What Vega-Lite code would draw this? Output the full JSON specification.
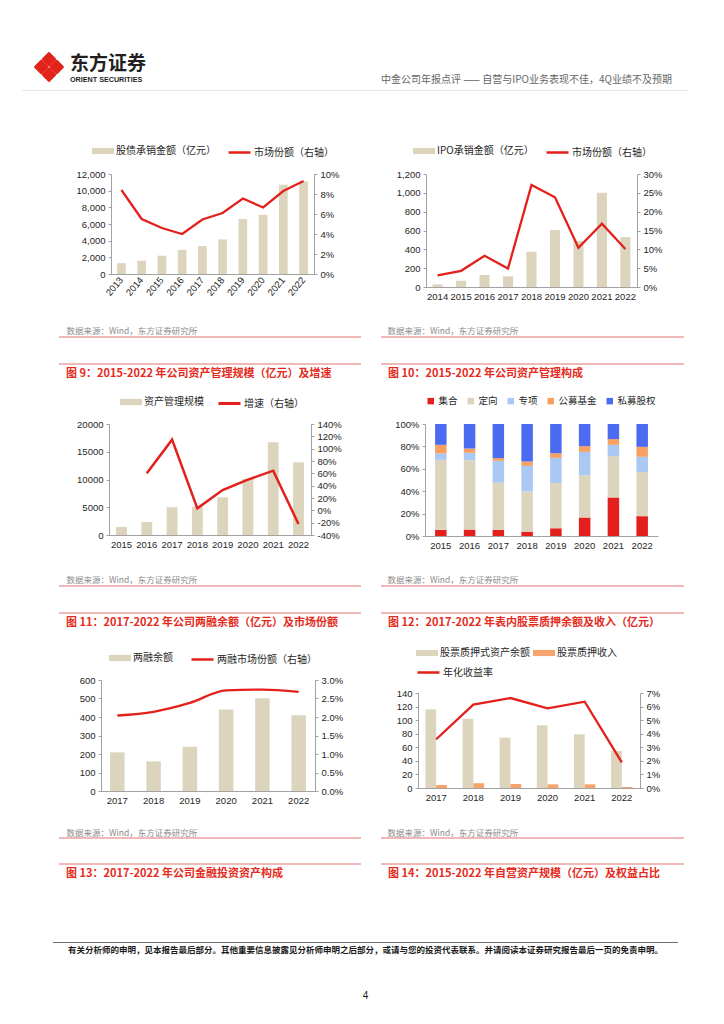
{
  "$schema": "https://vega.github.io/schema/vega-lite/v6.json",
  "background": "white",
  "padding": {"left": 22, "top": 52, "right": 0, "bottom": 0},
  "spacing": 0,
  "resolve": {"scale": {"fill": "independent", "stroke": "independent", "color": "independent"}, "legend": {"fill": "independent", "stroke": "independent", "color": "independent"}},
  "vconcat": [
    {
      "spacing": 0,
      "hconcat": [
        {"width": 6, "height": 1, "data": {"values": []}, "mark": "point"},
        {"width": 42, "height": 26, "data": {"values": [{}]}, "mark": {"type": "point", "shape": "M0,-0.9L0.4,-0.5L0,-0.1L-0.4,-0.5Z M0.5,-0.4L0.9,0L0.5,0.4L0.1,0Z M0,0.1L0.4,0.5L0,0.9L-0.4,0.5Z M-0.5,-0.4L-0.1,0L-0.5,0.4L-0.9,0Z", "size": 960, "filled": true, "color": "#E2231A", "opacity": 1, "stroke": "#E2231A", "strokeWidth": 2, "strokeJoin": "round"}, "encoding": {}},
        {"width": 80, "height": 1, "data": {"values": []}, "mark": "point", "title": {"text": "东方证券", "subtitle": "ORIENT SECURITIES", "orient": "bottom", "anchor": "start", "frame": "group", "font": "Noto Sans CJK SC", "fontSize": 19, "fontWeight": "bold", "color": "#231F20", "subtitleFont": "Liberation Sans", "subtitleFontSize": 7.2, "subtitleFontWeight": "bold", "subtitleColor": "#231F20", "subtitlePadding": 2, "offset": 0}},
        {"width": 522, "height": 16, "data": {"values": []}, "mark": "point", "title": {"text": "中金公司年报点评 —— 自营与IPO业务表现不佳，4Q业绩不及预期", "orient": "bottom", "anchor": "end", "frame": "group", "font": "Noto Sans CJK SC", "fontSize": 10, "fontWeight": "normal", "color": "#666666", "offset": 5}}
      ],
      "resolve": {"scale": {"fill": "independent", "stroke": "independent", "color": "independent"}}
    },
    {"width": 1, "height": 5, "data": {"values": []}, "mark": "point"},
    {"width": 666, "height": 1, "data": {"values": []}, "mark": "point", "view": {"fill": "#E6E6E6", "stroke": null}},
    {"width": 1, "height": 49, "data": {"values": []}, "mark": "point"},
    {
      "spacing": 0,
      "resolve": {"scale": {"fill": "independent", "stroke": "independent", "color": "independent"}, "legend": {"fill": "independent", "stroke": "independent", "color": "independent"}},
      "hconcat": [
        {"width": 44, "height": 1, "data": {"values": []}, "mark": "point"},
        {
          "width": 203, "height": 100,
          "data": {"values": [
            {"year": "2013", "amt": 1300, "share": 8.4},
            {"year": "2014", "amt": 1600, "share": 5.5},
            {"year": "2015", "amt": 2200, "share": 4.6},
            {"year": "2016", "amt": 2900, "share": 4.0},
            {"year": "2017", "amt": 3350, "share": 5.45},
            {"year": "2018", "amt": 4150, "share": 6.1},
            {"year": "2019", "amt": 6600, "share": 7.55},
            {"year": "2020", "amt": 7100, "share": 6.65},
            {"year": "2021", "amt": 10700, "share": 8.3},
            {"year": "2022", "amt": 11100, "share": 9.3}
          ]},
          "encoding": {"x": {"field": "year", "type": "ordinal", "scale": {"paddingInner": 0.57, "paddingOuter": 0.3}, "axis": {"labelAngle": -50, "title": "数据来源：Wind，东方证券研究所", "titleX": -45, "titleY": 59.8}}},
          "layer": [
            {"mark": {"type": "bar"}, "encoding": {
              "y": {"field": "amt", "type": "quantitative", "scale": {"domain": [0, 12000], "nice": false}, "axis": {"title": null, "values": [0, 2000, 4000, 6000, 8000, 10000, 12000], "format": ",.0f"}},
              "fill": {"datum": "股债承销金额（亿元）", "type": "nominal", "scale": {"range": ["#DDD4BE"]}, "legend": {"title": null, "orient": "none", "legendX": -19, "legendY": -34, "symbolType": "M-1,-0.28H1V0.28H-1Z", "symbolStrokeWidth": 0}}
            }},
            {"mark": {"type": "line", "strokeWidth": 2.3}, "encoding": {
              "y": {"field": "share", "type": "quantitative", "scale": {"domain": [0, 10], "nice": false}, "axis": {"title": null, "orient": "right", "values": [0, 2, 4, 6, 8, 10], "labelExpr": "datum.value + '%'"}},
              "stroke": {"datum": "市场份额（右轴）", "type": "nominal", "scale": {"range": ["#E3201B"]}, "legend": {"title": null, "orient": "none", "legendX": 116, "legendY": -34, "symbolType": "stroke", "symbolStrokeWidth": 2.5}}
            }}
          ],
          "resolve": {"scale": {"y": "independent"}}
        },
        {"width": 47, "height": 1, "data": {"values": []}, "mark": "point"},
        {
          "width": 211, "height": 113,
          "data": {"values": [
            {"year": "2014", "amt": 28, "share": 3.1},
            {"year": "2015", "amt": 67, "share": 4.3},
            {"year": "2016", "amt": 127, "share": 8.3},
            {"year": "2017", "amt": 113, "share": 4.9},
            {"year": "2018", "amt": 374, "share": 27.1},
            {"year": "2019", "amt": 604, "share": 23.8},
            {"year": "2020", "amt": 487, "share": 10.4},
            {"year": "2021", "amt": 1002, "share": 16.8},
            {"year": "2022", "amt": 530, "share": 10.1}
          ]},
          "encoding": {"x": {"field": "year", "type": "ordinal", "scale": {"paddingInner": 0.57, "paddingOuter": 0.28}, "axis": {"title": "数据来源：Wind，东方证券研究所", "titleX": -39, "titleY": 46.8}}},
          "layer": [
            {"mark": {"type": "bar"}, "encoding": {
              "y": {"field": "amt", "type": "quantitative", "scale": {"domain": [0, 1200], "nice": false}, "axis": {"title": null, "values": [0, 200, 400, 600, 800, 1000, 1200], "format": ",.0f"}},
              "fill": {"datum": "IPO承销金额（亿元）", "type": "nominal", "scale": {"range": ["#DDD4BE"]}, "legend": {"title": null, "orient": "none", "legendX": -13, "legendY": -34, "symbolType": "M-1,-0.28H1V0.28H-1Z", "symbolStrokeWidth": 0}}
            }},
            {"mark": {"type": "line", "strokeWidth": 2.3}, "encoding": {
              "y": {"field": "share", "type": "quantitative", "scale": {"domain": [0, 30], "nice": false}, "axis": {"title": null, "orient": "right", "values": [0, 5, 10, 15, 20, 25, 30], "labelExpr": "datum.value + '%'"}},
              "stroke": {"datum": "市场份额（右轴）", "type": "nominal", "scale": {"range": ["#E3201B"]}, "legend": {"title": null, "orient": "none", "legendX": 119, "legendY": -34, "symbolType": "stroke", "symbolStrokeWidth": 2.5}}
            }}
          ],
          "resolve": {"scale": {"y": "independent"}}
        }
      ]
    },
    {
      "spacing": 0,
      "hconcat": [
        {"width": 36, "height": 1, "data": {"values": []}, "mark": "point"},
        {"width": 302, "height": 27, "data": {"values": []}, "mark": "point", "view": {"stroke": "#ECA3A0", "strokeWidth": 1.5, "strokeDash": [302, 27, 302, 27]}, "title": {"text": "图 9：2015-2022 年公司资产管理规模（亿元）及增速", "orient": "bottom", "anchor": "start", "frame": "group", "dx": 7, "offset": 4, "font": "Noto Sans CJK SC", "fontSize": 11, "fontWeight": "bold", "color": "#E52A20"}},
        {"width": 18, "height": 1, "data": {"values": []}, "mark": "point"},
        {"width": 303, "height": 27, "data": {"values": []}, "mark": "point", "view": {"stroke": "#ECA3A0", "strokeWidth": 1.5, "strokeDash": [303, 27, 303, 27]}, "title": {"text": "图 10：2015-2022 年公司资产管理构成", "orient": "bottom", "anchor": "start", "frame": "group", "dx": 7, "offset": 4, "font": "Noto Sans CJK SC", "fontSize": 11, "fontWeight": "bold", "color": "#E52A20"}}
      ]
    },
    {"width": 1, "height": 11, "data": {"values": []}, "mark": "point"},
    {
      "spacing": 0,
      "resolve": {"scale": {"fill": "independent", "stroke": "independent", "color": "independent"}, "legend": {"fill": "independent", "stroke": "independent", "color": "independent"}},
      "hconcat": [
        {"width": 44, "height": 1, "data": {"values": []}, "mark": "point"},
        {
          "width": 202, "height": 111,
          "data": {"values": [
            {"year": "2015", "aum": 1440, "g": null},
            {"year": "2016", "aum": 2340, "g": 60},
            {"year": "2017", "aum": 4990, "g": 114.6},
            {"year": "2018", "aum": 5100, "g": 3.2},
            {"year": "2019", "aum": 6790, "g": 33},
            {"year": "2020", "aum": 10100, "g": 49.7},
            {"year": "2021", "aum": 16700, "g": 64.3},
            {"year": "2022", "aum": 13100, "g": -22.2}
          ]},
          "encoding": {"x": {"field": "year", "type": "ordinal", "scale": {"paddingInner": 0.57, "paddingOuter": 0.28}, "axis": {"title": "数据来源：Wind，东方证券研究所", "titleX": -43, "titleY": 47.8}}},
          "layer": [
            {"mark": {"type": "bar"}, "encoding": {
              "y": {"field": "aum", "type": "quantitative", "scale": {"domain": [0, 20000], "nice": false}, "axis": {"title": null, "values": [0, 5000, 10000, 15000, 20000], "format": "d"}},
              "fill": {"datum": "资产管理规模", "type": "nominal", "scale": {"range": ["#DDD4BE"]}, "legend": {"title": null, "orient": "none", "legendX": 11, "legendY": -33, "symbolType": "M-1,-0.28H1V0.28H-1Z", "symbolStrokeWidth": 0}}
            }},
            {"mark": {"type": "line", "strokeWidth": 2.5}, "encoding": {
              "y": {"field": "g", "type": "quantitative", "scale": {"domain": [-40, 140], "nice": false, "zero": false}, "axis": {"title": null, "orient": "right", "values": [-40, -20, 0, 20, 40, 60, 80, 100, 120, 140], "labelExpr": "datum.value + '%'"}},
              "stroke": {"datum": "增速（右轴）", "type": "nominal", "scale": {"range": ["#E3201B"]}, "legend": {"title": null, "orient": "none", "legendX": 108, "legendY": -33, "symbolType": "stroke", "symbolStrokeWidth": 3}}
            }}
          ],
          "resolve": {"scale": {"y": "independent"}}
        },
        {"width": 45, "height": 1, "data": {"values": []}, "mark": "point"},
        {
          "width": 233, "height": 112,
          "data": {"values": [
            {"year": "2015", "cat": "集合", "o": 1, "v": 5.4}, {"year": "2015", "cat": "定向", "o": 2, "v": 62.6}, {"year": "2015", "cat": "专项", "o": 3, "v": 5.7}, {"year": "2015", "cat": "公募基金", "o": 4, "v": 7.7}, {"year": "2015", "cat": "私募股权", "o": 5, "v": 18.6},
            {"year": "2016", "cat": "集合", "o": 1, "v": 5.7}, {"year": "2016", "cat": "定向", "o": 2, "v": 62.0}, {"year": "2016", "cat": "专项", "o": 3, "v": 6.6}, {"year": "2016", "cat": "公募基金", "o": 4, "v": 3.8}, {"year": "2016", "cat": "私募股权", "o": 5, "v": 21.9},
            {"year": "2017", "cat": "集合", "o": 1, "v": 5.4}, {"year": "2017", "cat": "定向", "o": 2, "v": 42.2}, {"year": "2017", "cat": "专项", "o": 3, "v": 19.5}, {"year": "2017", "cat": "公募基金", "o": 4, "v": 2.4}, {"year": "2017", "cat": "私募股权", "o": 5, "v": 30.5},
            {"year": "2018", "cat": "集合", "o": 1, "v": 3.9}, {"year": "2018", "cat": "定向", "o": 2, "v": 35.9}, {"year": "2018", "cat": "专项", "o": 3, "v": 22.8}, {"year": "2018", "cat": "公募基金", "o": 4, "v": 3.9}, {"year": "2018", "cat": "私募股权", "o": 5, "v": 33.5},
            {"year": "2019", "cat": "集合", "o": 1, "v": 6.9}, {"year": "2019", "cat": "定向", "o": 2, "v": 40.4}, {"year": "2019", "cat": "专项", "o": 3, "v": 22.5}, {"year": "2019", "cat": "公募基金", "o": 4, "v": 4.1}, {"year": "2019", "cat": "私募股权", "o": 5, "v": 26.1},
            {"year": "2020", "cat": "集合", "o": 1, "v": 16.5}, {"year": "2020", "cat": "定向", "o": 2, "v": 37.7}, {"year": "2020", "cat": "专项", "o": 3, "v": 20.9}, {"year": "2020", "cat": "公募基金", "o": 4, "v": 5.1}, {"year": "2020", "cat": "私募股权", "o": 5, "v": 19.8},
            {"year": "2021", "cat": "集合", "o": 1, "v": 34.4}, {"year": "2021", "cat": "定向", "o": 2, "v": 36.9}, {"year": "2021", "cat": "专项", "o": 3, "v": 10.1}, {"year": "2021", "cat": "公募基金", "o": 4, "v": 5.1}, {"year": "2021", "cat": "私募股权", "o": 5, "v": 13.5},
            {"year": "2022", "cat": "集合", "o": 1, "v": 17.7}, {"year": "2022", "cat": "定向", "o": 2, "v": 39.5}, {"year": "2022", "cat": "专项", "o": 3, "v": 13.5}, {"year": "2022", "cat": "公募基金", "o": 4, "v": 8.9}, {"year": "2022", "cat": "私募股权", "o": 5, "v": 20.4}
          ]},
          "mark": {"type": "bar"},
          "encoding": {
            "x": {"field": "year", "type": "ordinal", "scale": {"paddingInner": 0.6, "paddingOuter": 0.35}, "axis": {"title": "数据来源：Wind，东方证券研究所", "titleX": -38, "titleY": 46.8}},
            "y": {"field": "v", "type": "quantitative", "stack": true, "scale": {"domain": [0, 100], "nice": false}, "axis": {"title": null, "values": [0, 20, 40, 60, 80, 100], "labelExpr": "datum.value + '%'"}},
            "color": {"field": "cat", "type": "nominal", "scale": {"domain": ["集合", "定向", "专项", "公募基金", "私募股权"], "range": ["#E3201B", "#DDD4BE", "#A9C8F3", "#F7A062", "#4B6CF0"]}, "legend": {"title": null, "orient": "none", "legendX": 1, "legendY": -28, "symbolType": "square", "symbolSize": 42, "labelFontSize": 9.5, "labelOffset": 3, "columnPadding": 8}},
            "order": {"field": "o", "type": "quantitative", "sort": "ascending"}
          }
        }
      ]
    },
    {
      "spacing": 0,
      "hconcat": [
        {"width": 36, "height": 1, "data": {"values": []}, "mark": "point"},
        {"width": 302, "height": 27, "data": {"values": []}, "mark": "point", "view": {"stroke": "#ECA3A0", "strokeWidth": 1.5, "strokeDash": [302, 27, 302, 27]}, "title": {"text": "图 11：2017-2022 年公司两融余额（亿元）及市场份额", "orient": "bottom", "anchor": "start", "frame": "group", "dx": 7, "offset": 4, "font": "Noto Sans CJK SC", "fontSize": 11, "fontWeight": "bold", "color": "#E52A20"}},
        {"width": 18, "height": 1, "data": {"values": []}, "mark": "point"},
        {"width": 303, "height": 27, "data": {"values": []}, "mark": "point", "view": {"stroke": "#ECA3A0", "strokeWidth": 1.5, "strokeDash": [303, 27, 303, 27]}, "title": {"text": "图 12：2017-2022 年表内股票质押余额及收入（亿元）", "orient": "bottom", "anchor": "start", "frame": "group", "dx": 7, "offset": 4, "font": "Noto Sans CJK SC", "fontSize": 11, "fontWeight": "bold", "color": "#E52A20"}}
      ]
    },
    {"width": 1, "height": 12, "data": {"values": []}, "mark": "point"},
    {
      "spacing": 0,
      "resolve": {"scale": {"fill": "independent", "stroke": "independent", "color": "independent"}, "legend": {"fill": "independent", "stroke": "independent", "color": "independent"}},
      "hconcat": [
        {"width": 44, "height": 1, "data": {"values": []}, "mark": "point"},
        {
          "spacing": 0,
          "resolve": {"scale": {"fill": "independent", "stroke": "independent", "color": "independent"}, "legend": {"fill": "independent", "stroke": "independent", "color": "independent"}},
          "vconcat": [
            {"width": 1, "height": 6, "data": {"values": []}, "mark": "point"},
            {
              "width": 214, "height": 111,
              "data": {"values": [
                {"year": "2017", "bal": 209, "share": 2.04},
                {"year": "2018", "bal": 160, "share": 2.14},
                {"year": "2019", "bal": 239, "share": 2.38},
                {"year": "2020", "bal": 441, "share": 2.72},
                {"year": "2021", "bal": 502, "share": 2.74},
                {"year": "2022", "bal": 410, "share": 2.68}
              ]},
              "encoding": {"x": {"field": "year", "type": "ordinal", "scale": {"paddingInner": 0.6, "paddingOuter": 0.25}, "axis": {"title": "数据来源：Wind，东方证券研究所", "titleX": -35, "titleY": 44.3}}},
              "layer": [
                {"mark": {"type": "bar"}, "encoding": {
                  "y": {"field": "bal", "type": "quantitative", "scale": {"domain": [0, 600], "nice": false}, "axis": {"title": null, "values": [0, 100, 200, 300, 400, 500, 600]}},
                  "fill": {"datum": "两融余额", "type": "nominal", "scale": {"range": ["#DDD4BE"]}, "legend": {"title": null, "orient": "none", "legendX": 8, "legendY": -33, "symbolType": "M-1,-0.28H1V0.28H-1Z", "symbolStrokeWidth": 0}}
                }},
                {"mark": {"type": "line", "strokeWidth": 2.3, "interpolate": "monotone"}, "encoding": {
                  "y": {"field": "share", "type": "quantitative", "scale": {"domain": [0, 3], "nice": false}, "axis": {"title": null, "orient": "right", "values": [0, 0.5, 1, 1.5, 2, 2.5, 3], "labelExpr": "format(datum.value, '.1f') + '%'"}},
                  "stroke": {"datum": "两融市场份额（右轴）", "type": "nominal", "scale": {"range": ["#E3201B"]}, "legend": {"title": null, "orient": "none", "legendX": 89, "legendY": -33, "symbolType": "stroke", "symbolStrokeWidth": 2.5}}
                }}
              ],
              "resolve": {"scale": {"y": "independent"}}
            }
          ]
        },
        {"width": 44, "height": 1, "data": {"values": []}, "mark": "point"},
        {
          "spacing": 0,
          "resolve": {"scale": {"fill": "independent", "stroke": "independent", "color": "independent"}, "legend": {"fill": "independent", "stroke": "independent", "color": "independent"}},
          "vconcat": [
            {"width": 1, "height": 1, "data": {"values": []}, "mark": "point"},
            {
              "width": 222, "height": 95,
              "encoding": {"x": {"field": "year", "type": "ordinal", "scale": {"paddingInner": 0.42, "paddingOuter": 0.2}, "axis": {"title": "数据来源：Wind，东方证券研究所", "titleX": -31, "titleY": 47.3}}},
              "layer": [
                {
                  "data": {"values": [
                    {"year": "2017", "s": "股票质押式资产余额", "v": 115.9}, {"year": "2017", "s": "股票质押收入", "v": 4.4},
                    {"year": "2018", "s": "股票质押式资产余额", "v": 102.1}, {"year": "2018", "s": "股票质押收入", "v": 6.9},
                    {"year": "2019", "s": "股票质押式资产余额", "v": 74.2}, {"year": "2019", "s": "股票质押收入", "v": 5.9},
                    {"year": "2020", "s": "股票质押式资产余额", "v": 92.3}, {"year": "2020", "s": "股票质押收入", "v": 5.4},
                    {"year": "2021", "s": "股票质押式资产余额", "v": 79.1}, {"year": "2021", "s": "股票质押收入", "v": 5.4},
                    {"year": "2022", "s": "股票质押式资产余额", "v": 54.5}, {"year": "2022", "s": "股票质押收入", "v": 1.5}
                  ]},
                  "mark": {"type": "bar"},
                  "encoding": {
                    "xOffset": {"field": "s", "type": "nominal", "sort": ["股票质押式资产余额", "股票质押收入"]},
                    "y": {"field": "v", "type": "quantitative", "scale": {"domain": [0, 140], "nice": false}, "axis": {"title": null, "values": [0, 20, 40, 60, 80, 100, 120, 140]}},
                    "fill": {"field": "s", "type": "nominal", "scale": {"domain": ["股票质押式资产余额", "股票质押收入"], "range": ["#DDD4BE", "#F6A46B"]}, "legend": {"title": null, "orient": "none", "legendX": -2, "legendY": -51, "symbolType": "M-1,-0.28H1V0.28H-1Z", "symbolStrokeWidth": 0, "columnPadding": 3}}
                  }
                },
                {
                  "data": {"values": [
                    {"year": "2017", "yld": 3.59},
                    {"year": "2018", "yld": 6.14},
                    {"year": "2019", "yld": 6.63},
                    {"year": "2020", "yld": 5.87},
                    {"year": "2021", "yld": 6.36},
                    {"year": "2022", "yld": 1.89}
                  ]},
                  "mark": {"type": "line", "strokeWidth": 2.3},
                  "encoding": {
                    "y": {"field": "yld", "type": "quantitative", "scale": {"domain": [0, 7], "nice": false}, "axis": {"title": null, "orient": "right", "values": [0, 1, 2, 3, 4, 5, 6, 7], "labelExpr": "datum.value + '%'"}},
                    "stroke": {"datum": "年化收益率", "type": "nominal", "scale": {"range": ["#E3201B"]}, "legend": {"title": null, "orient": "none", "legendX": -2, "legendY": -33, "symbolType": "stroke", "symbolStrokeWidth": 2.5}}
                  }
                }
              ],
              "resolve": {"scale": {"y": "independent"}}
            }
          ]
        }
      ]
    },
    {
      "spacing": 0,
      "hconcat": [
        {"width": 36, "height": 1, "data": {"values": []}, "mark": "point"},
        {"width": 302, "height": 26, "data": {"values": []}, "mark": "point", "view": {"stroke": "#ECA3A0", "strokeWidth": 1.5, "strokeDash": [302, 26, 302, 26]}, "title": {"text": "图 13：2017-2022 年公司金融投资资产构成", "orient": "bottom", "anchor": "start", "frame": "group", "dx": 7, "offset": 4, "font": "Noto Sans CJK SC", "fontSize": 11, "fontWeight": "bold", "color": "#E52A20"}},
        {"width": 18, "height": 1, "data": {"values": []}, "mark": "point"},
        {"width": 303, "height": 26, "data": {"values": []}, "mark": "point", "view": {"stroke": "#ECA3A0", "strokeWidth": 1.5, "strokeDash": [303, 26, 303, 26]}, "title": {"text": "图 14：2015-2022 年自营资产规模（亿元）及权益占比", "orient": "bottom", "anchor": "start", "frame": "group", "dx": 7, "offset": 4, "font": "Noto Sans CJK SC", "fontSize": 11, "fontWeight": "bold", "color": "#E52A20"}}
      ]
    },
    {"width": 1, "height": 62, "data": {"values": []}, "mark": "point"},
    {
      "spacing": 0,
      "hconcat": [
        {"width": 31, "height": 1, "data": {"values": []}, "mark": "point"},
        {"width": 625, "height": 1, "data": {"values": []}, "mark": "point", "view": {"fill": "#6E6E6E", "stroke": null}, "title": {"text": "有关分析师的申明，见本报告最后部分。其他重要信息披露见分析师申明之后部分，或请与您的投资代表联系。并请阅读本证券研究报告最后一页的免责申明。", "orient": "bottom", "anchor": "middle", "frame": "group", "offset": 3, "font": "Noto Sans CJK SC", "fontSize": 8.5, "fontWeight": "bold", "color": "#1A1A1A", "subtitle": "4", "subtitleFont": "Liberation Sans", "subtitleFontSize": 10, "subtitleColor": "#1A1A1A", "subtitlePadding": 36}}
      ]
    }
  ],
  "config": {
    "view": {"stroke": null},
    "font": "Noto Sans CJK SC",
    "axis": {"grid": false, "domainColor": "#8A8A8A", "domainWidth": 0.8, "tickColor": "#8A8A8A", "tickWidth": 0.8, "tickSize": 3, "labelFont": "Liberation Sans", "labelFontSize": 9.5, "labelColor": "#262626", "labelPadding": 3},
    "axisX": {"ticks": false, "labelPadding": 4, "labelAngle": 0, "titleFont": "Noto Sans CJK SC", "titleFontSize": 8.5, "titleFontWeight": "normal", "titleColor": "#8C8C8C", "titleAnchor": "start", "titleAlign": "left", "titleBaseline": "alphabetic"},
    "legend": {"labelFont": "Noto Sans CJK SC", "labelFontSize": 10, "labelColor": "#262626", "labelOffset": 2, "padding": 0, "symbolSize": 484, "direction": "horizontal", "labelLimit": 0, "columnPadding": 12},
    "title": {"font": "Noto Sans CJK SC"}
  }
}
